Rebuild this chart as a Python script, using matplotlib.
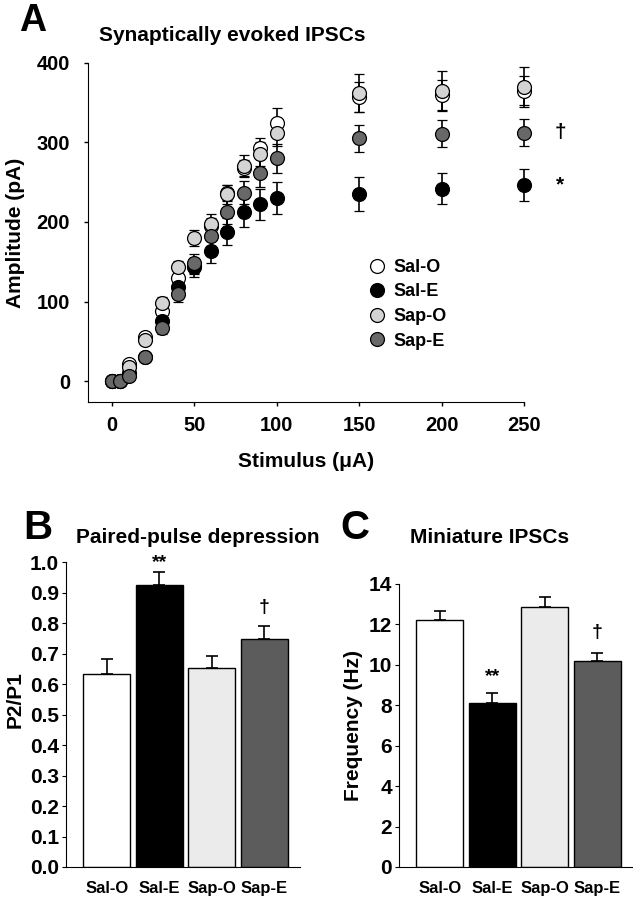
import matplotlib
matplotlib.use("Agg")
import matplotlib.pyplot as plt
from matplotlib.lines import Line2D
import numpy as np

plt.rcParams["font.family"] = ["Liberation Sans", "DejaVu Sans"]
plt.rcParams["font.weight"] = "bold"

# ---- panel A data: evoked IPSC amplitude vs stimulus
stim = [0, 5, 10, 20, 30, 40, 50, 60, 70, 80, 90, 100, 150, 200, 250]
sal_o = [0, 0, 22, 55, 88, 130, 145, 195, 237, 268, 293, 325, 357, 360, 365]
sal_e = [0, 0, 10, 30, 75, 118, 143, 163, 188, 212, 222, 230, 235, 242, 247]
sap_o = [0, 0, 18, 52, 98, 143, 180, 198, 235, 270, 285, 312, 362, 365, 370]
sap_e = [0, 0, 6, 30, 67, 110, 148, 182, 213, 237, 262, 280, 305, 311, 312]
sal_o_err = [2, 2, 4, 5, 8, 8, 10, 10, 10, 10, 12, 18, 19, 19, 18]
sal_e_err = [2, 2, 3, 5, 8, 10, 12, 15, 17, 18, 20, 20, 21, 20, 20]
sap_o_err = [2, 2, 3, 5, 8, 8, 10, 12, 12, 14, 15, 17, 24, 25, 25]
sap_e_err = [2, 2, 3, 5, 8, 10, 12, 12, 15, 15, 18, 18, 17, 17, 17]

groups = ["Sal-O", "Sal-E", "Sap-O", "Sap-E"]
marker_colors = ["#ffffff", "#000000", "#d4d4d4", "#686868"]
bar_colors = ["#ffffff", "#000000", "#ebebeb", "#5c5c5c"]

# ---- panel B: paired-pulse ratio
ppr = [0.634, 0.925, 0.654, 0.748]
ppr_err = [0.049, 0.042, 0.038, 0.044]

# ---- panel C: mIPSC frequency
freq = [12.23, 8.13, 12.88, 10.17]
freq_err = [0.45, 0.47, 0.46, 0.44]

fig = plt.figure(figsize=(6.33, 8.99), dpi=100)

# ---------------- A
axA = fig.add_axes([0.139, 0.5528, 0.689, 0.3772])
series = [(sal_o, sal_o_err), (sal_e, sal_e_err), (sap_o, sap_o_err), (sap_e, sap_e_err)]
for (vals, err), c in zip(series, marker_colors):
    axA.errorbar(stim, vals, yerr=err, fmt="o", ms=10, mfc=c, mec="black", mew=0.9,
                 ecolor="black", elinewidth=1.2, capsize=3.5, capthick=1.2,
                 clip_on=False)
axA.set_xlim(-14.6, 250)
axA.set_ylim(-26.4, 400)
axA.set_xticks([0, 50, 100, 150, 200, 250])
axA.set_yticks([0, 100, 200, 300, 400])
axA.spines["top"].set_visible(False)
axA.spines["right"].set_visible(False)
axA.tick_params(direction="out", length=3, width=1, labelsize=14.5, pad=7)
axA.tick_params(axis="y", pad=10)
axA.set_xlabel("Stimulus (\u03bcA)", fontsize=15, fontweight="bold", labelpad=12)
axA.set_ylabel("Amplitude (pA)", fontsize=15, fontweight="bold", labelpad=8)
axA.text(272, sap_e[-1], "\u2020", fontsize=15, ha="center", va="center")
axA.text(272, sal_e[-1], "*", fontsize=15, ha="center", va="center")
handles = [Line2D([], [], ls="none", marker="o", ms=10, mfc=c, mec="black", mew=0.9)
           for c in marker_colors]
axA.legend(handles, groups, loc="upper left", bbox_to_anchor=(0.6, 0.47), frameon=False,
           fontsize=13, handletextpad=0.3, labelspacing=0.42, handlelength=1.2)
fig.text(0.03, 0.9765, "A", fontsize=27, fontweight="bold", va="center")
fig.text(0.156, 0.961, "Synaptically evoked IPSCs", fontsize=15, fontweight="bold",
         va="center")

# ---------------- B / C
def bar_panel(rect, vals, errs, ylim, yticks, fmt, ylabel, label_y, marks):
    ax = fig.add_axes(rect)
    x = np.arange(len(groups))
    ax.bar(x, vals, width=0.9, color=bar_colors, edgecolor="black", linewidth=1.0, zorder=2)
    ax.errorbar(x, vals, yerr=[np.zeros(len(vals)), errs], fmt="none", ecolor="black",
                elinewidth=1.2, capsize=4, capthick=1.2, zorder=1)
    ax.set_xlim(-0.78, 3.68)
    ax.set_ylim(*ylim)
    ax.set_yticks(yticks)
    ax.set_yticklabels([fmt.format(t) for t in yticks])
    ax.set_xticks(x)
    ax.set_xticklabels(groups, fontsize=12)
    ax.spines["top"].set_visible(False)
    ax.spines["right"].set_visible(False)
    ax.tick_params(axis="y", direction="out", length=3, labelsize=15, pad=2)
    ax.tick_params(axis="x", length=0, pad=10)
    ax.set_ylabel(ylabel, fontsize=15, fontweight="bold", labelpad=4)
    ax.yaxis.label.set_y(label_y)
    for i, (txt, yy) in marks.items():
        ax.text(i, yy, txt, ha="center", va="center", fontsize=14)
    return ax

axB = bar_panel([0.104, 0.0356, 0.37, 0.339], ppr, ppr_err, (0, 1.0),
                [round(0.1 * i, 1) for i in range(11)], "{:.1f}", "P2/P1", 0.55,
                {1: ("**", 1.0), 3: ("\u2020", 0.85)})
axC = bar_panel([0.630, 0.0356, 0.37, 0.3148], freq, freq_err, (0, 14),
                list(range(0, 15, 2)), "{:d}", "Frequency (Hz)", 0.5,
                {1: ("**", 9.4), 3: ("\u2020", 11.6)})
fig.text(0.036, 0.413, "B", fontsize=29, fontweight="bold", va="center")
fig.text(0.12, 0.402, "Paired-pulse depression", fontsize=15, fontweight="bold", va="center")
fig.text(0.537, 0.413, "C", fontsize=29, fontweight="bold", va="center")
fig.text(0.648, 0.402, "Miniature IPSCs", fontsize=15, fontweight="bold", va="center")

fig.savefig("out.png", dpi=100)
